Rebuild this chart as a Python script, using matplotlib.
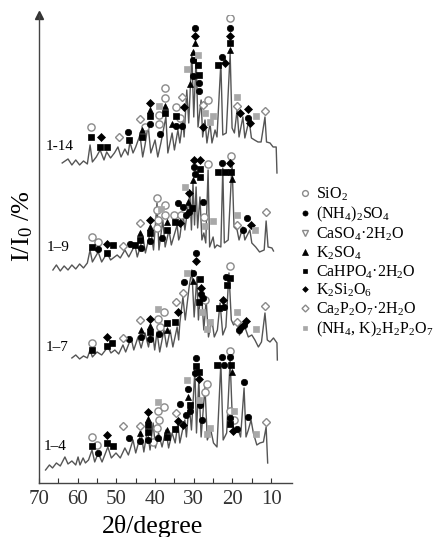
import matplotlib.pyplot as plt
from matplotlib.lines import Line2D
import numpy as np

plt.rcParams['font.family'] = 'Liberation Serif'
plt.rcParams['mathtext.fontset'] = 'custom'
plt.rcParams['mathtext.rm'] = 'Liberation Serif'
plt.rcParams['mathtext.it'] = 'Liberation Serif:italic'

# XRD patterns, 2theta (degree) and stacked intensity (arbitrary units)
tt_14 = [64.0, 62.5, 61.5, 60.5, 59.5, 58.5, 57.5, 56.8, 56.2, 55.2, 54.2, 53.2, 52.5, 51.5, 50.5,
         49.6, 48.8, 47.8, 47.0, 46.5, 45.7, 45.0, 43.9, 43.2, 42.6, 41.8, 41.1, 40.0, 39.3, 38.5,
         37.2, 36.7, 35.6, 35.0, 34.1, 33.6, 32.8, 32.5, 31.8, 31.3, 30.5, 30.0, 29.4, 28.9, 28.1,
         27.7, 27.1, 26.6, 25.8, 25.3, 24.5, 24.0, 23.0, 22.5, 21.6, 20.6, 20.1, 19.5, 18.8, 18.3,
         17.3, 16.8, 15.7, 15.1, 14.3, 13.4, 12.6, 11.6, 11.2, 10.3, 9.5, 8.7, 8.5]
ii_14 = [320, 324, 318, 323, 318, 322, 319, 338, 321, 326, 333, 323, 331, 325, 330,
         336, 326, 334, 328, 341, 330, 336, 348, 326, 338, 358, 330, 343, 326, 340,
         366, 330, 350, 333, 353, 340, 363, 346, 393, 360, 430, 366, 425, 356, 383,
         346, 363, 340, 360, 340, 353, 346, 420, 348, 350, 430, 355, 350, 373, 346,
         366, 345, 363, 345, 343, 341, 341, 366, 341, 340, 336, 336, 310]

tt_9 = [66.4, 65.5, 64.5, 63.5, 62.5, 61.5, 60.5, 59.5, 58.5, 57.5, 56.8, 56.2, 54.7, 53.8, 52.4,
        51.5, 49.8, 49.0, 47.8, 46.8, 45.2, 44.6, 43.1, 42.5, 41.1, 40.4, 39.5, 39.0, 38.0, 37.4,
        36.4, 35.8, 34.3, 33.9, 33.6, 32.8, 32.3, 31.0, 30.6, 30.2, 29.8, 29.4, 29.0, 28.4, 27.9,
        27.4, 26.9, 26.3, 25.9, 25.0, 24.6, 24.0, 23.0, 22.5, 22.1, 21.1, 20.1, 19.6, 18.8, 18.3,
        17.3, 16.8, 15.5, 15.0, 14.0, 13.0, 11.8, 11.3, 10.8, 9.8, 9.4]
ii_9 = [213, 218, 212, 217, 213, 218, 214, 219, 215, 220, 233, 221, 231, 221, 230,
        223, 228, 225, 233, 226, 238, 226, 246, 230, 253, 233, 280, 233, 263, 236,
        253, 238, 258, 243, 246, 270, 253, 290, 253, 300, 258, 296, 255, 286, 243,
        250, 240, 313, 236, 246, 235, 238, 236, 315, 240, 243, 320, 256, 253, 243,
        256, 243, 253, 240, 236, 231, 233, 262, 236, 235, 232]

tt_7 = [61.5, 60.5, 59.5, 58.5, 57.5, 56.8, 56.2, 55.0, 53.8, 52.2, 51.4, 50.4, 49.4, 48.3, 47.6,
        46.2, 45.5, 44.4, 43.6, 42.6, 41.7, 40.8, 40.1, 39.5, 38.8, 37.7, 37.0, 36.1, 35.4, 34.3,
        33.9, 33.6, 32.8, 32.2, 31.2, 30.5, 29.9, 29.2, 28.8, 28.1, 27.4, 26.8, 26.2, 25.3, 24.7,
        23.9, 23.2, 22.5, 21.7, 20.9, 20.3, 19.7, 18.8, 18.2, 17.5, 16.8, 15.9, 15.0, 14.2, 13.3,
        12.5, 11.6, 11.0, 10.3, 9.4, 8.5, 8.4]
ii_7 = [125, 128, 124, 127, 125, 133, 126, 131, 128, 136, 130, 133, 129, 138, 131,
        145, 133, 146, 135, 150, 136, 155, 133, 151, 131, 153, 136, 153, 136, 156,
        143, 160, 186, 163, 196, 213, 166, 206, 163, 196, 153, 183, 146, 163, 146,
        153, 180, 148, 156, 210, 163, 158, 163, 148, 153, 156, 146, 148, 143, 136,
        141, 170, 143, 141, 145, 140, 123]

tt_4 = [68.3, 67.3, 66.5, 65.5, 64.5, 63.3, 62.5, 61.5, 60.5, 59.9, 59.4, 58.6, 58.0, 57.2, 56.3,
        55.6, 54.7, 53.7, 52.2, 51.3, 50.1, 49.0, 47.8, 46.9, 45.7, 45.0, 43.6, 42.9, 42.0, 41.3,
        40.5, 39.9, 39.1, 38.2, 37.2, 36.5, 35.6, 34.8, 34.1, 33.6, 32.9, 32.3, 31.9, 31.2, 30.6,
        29.7, 29.3, 28.7, 28.1, 27.1, 26.5, 25.6, 24.9, 24.0, 23.0, 22.4, 21.5, 20.6, 20.0, 19.3,
        18.5, 17.9, 17.0, 16.5, 15.9, 15.2, 14.6, 13.7, 12.9, 12.0, 11.3, 10.9]
ii_4 = [13, 18, 15, 20, 17, 26, 19, 22, 18, 26, 18, 25, 20, 23, 33,
        21, 30, 21, 36, 25, 30, 25, 35, 28, 43, 30, 50, 31, 53, 33,
        60, 35, 50, 36, 53, 35, 50, 40, 60, 40, 53, 63, 46, 80, 53,
        113, 50, 103, 46, 96, 43, 53, 40, 36, 120, 43, 50, 123, 60, 50,
        53, 46, 95, 46, 53, 63, 50, 38, 40, 41, 56, 20]

# phase markers: (2theta, height, phase)
mk_14 = [(56.6, 356, 'S'), (56.6, 346, 'H'), (54.0, 346, 'D'), (54.2, 336, 'H'), (52.3, 336, 'H'),
         (49.3, 346, 'P'), (47.0, 351, 'N'), (46.7, 343, 'H'),
         (43.9, 364, 'P'), (43.5, 353, 'K'), (43.5, 346, 'H'), (42.6, 356, 'S'),
         (41.3, 380, 'D'), (41.3, 373, 'K'), (41.3, 367, 'H'), (41.3, 359, 'N'),
         (39.0, 377, 'A'), (39.0, 368, 'S'), (39.0, 359, 'S'), (38.7, 349, 'N'),
         (37.4, 395, 'S'), (37.4, 385, 'S'), (37.4, 377, 'K'), (37.4, 370, 'H'),
         (35.6, 359, 'K'), (34.7, 367, 'H'), (34.5, 376, 'S'), (34.5, 357, 'N'), (33.1, 357, 'N'),
         (33.1, 386, 'P'), (33.6, 365, 'S'), (32.5, 376, 'D'),
         (31.7, 414, 'A'), (31.0, 399, 'K'),
         (30.3, 431, 'K'), (30.3, 423, 'N'), (30.3, 407, 'N'),
         (29.7, 455, 'N'), (29.7, 447, 'D'), (29.7, 440, 'K'),
         (28.8, 428, 'A'), (28.8, 418, 'H'), (28.6, 408, 'H'), (28.6, 400, 'N'), (28.6, 392, 'N'),
         (27.5, 378, 'P'), (26.3, 383, 'S'), (27.2, 370, 'A'), (25.0, 367, 'A'), (25.8, 361, 'A'),
         (27.6, 356, 'D'),
         (23.7, 418, 'H'), (22.8, 426, 'N'), (21.9, 420, 'D'),
         (20.6, 465, 'S'), (20.6, 455, 'N'), (20.6, 447, 'D'), (20.6, 440, 'H'), (20.6, 433, 'K'),
         (18.9, 386, 'A'), (18.9, 377, 'P'), (18.1, 370, 'D'),
         (16.0, 374, 'D'), (16.0, 365, 'N'), (15.4, 360, 'D'),
         (14.0, 367, 'A'), (11.6, 372, 'P')]

mk_9 = [(56.3, 246, 'S'), (56.3, 236, 'H'), (54.7, 241, 'S'), (54.7, 234, 'N'),
        (52.4, 239, 'D'), (52.4, 230, 'H'), (50.9, 238, 'H'),
        (48.3, 237, 'P'), (46.5, 239, 'N'), (45.2, 238, 'H'),
        (43.9, 260, 'P'), (43.9, 250, 'K'), (43.9, 243, 'H'), (43.6, 235, 'N'),
        (41.3, 263, 'D'), (41.3, 256, 'K'), (41.3, 250, 'H'), (41.3, 242, 'N'),
        (39.5, 285, 'S'), (39.5, 273, 'S'), (39.3, 263, 'S'), (39.5, 255, 'S'),
        (38.5, 274, 'A'), (38.2, 245, 'N'),
        (37.4, 278, 'S'), (37.4, 268, 'S'), (36.9, 261, 'K'), (36.9, 253, 'H'),
        (35.1, 268, 'S'), (34.9, 261, 'H'), (34.0, 280, 'N'), (33.6, 260, 'D'), (33.3, 268, 'S'),
        (32.9, 276, 'N'),
        (32.3, 296, 'A'), (32.1, 268, 'N'), (31.2, 271, 'N'), (31.4, 281, 'K'), (31.2, 290, 'D'),
        (30.5, 275, 'H'),
        (30.1, 303, 'K'), (29.9, 316, 'N'), (29.9, 323, 'D'), (29.6, 309, 'N'),
        (28.4, 323, 'D'), (28.4, 314, 'H'), (28.4, 306, 'H'),
        (27.5, 281, 'N'), (27.3, 266, 'S'), (27.0, 257, 'A'), (25.0, 262, 'A'),
        (26.3, 319, 'S'),
        (23.7, 311, 'H'), (22.8, 320, 'N'), (21.9, 311, 'H'),
        (20.3, 327, 'S'), (20.6, 320, 'D'), (20.4, 311, 'H'), (20.1, 304, 'K'),
        (18.9, 268, 'A'), (18.9, 258, 'P'),
        (17.4, 253, 'N'), (16.3, 265, 'N'), (15.3, 258, 'D'),
        (14.1, 253, 'A'), (11.3, 271, 'P')]

mk_7 = [(56.3, 140, 'S'), (56.3, 133, 'H'),
        (52.4, 146, 'D'), (52.4, 137, 'H'), (51.1, 140, 'H'),
        (48.3, 145, 'P'), (46.7, 144, 'N'),
        (43.9, 163, 'P'), (43.6, 153, 'K'), (43.6, 146, 'N'),
        (41.3, 164, 'D'), (41.3, 157, 'K'), (41.3, 151, 'H'), (41.3, 144, 'N'),
        (39.3, 174, 'A'), (37.7, 171, 'S'), (39.3, 164, 'S'), (38.8, 156, 'S'), (39.1, 149, 'N'),
        (36.9, 160, 'H'), (36.9, 153, 'K'),
        (34.9, 161, 'H'), (34.1, 171, 'D'), (34.5, 181, 'P'), (32.8, 190, 'P'),
        (31.8, 210, 'A'), (32.5, 201, 'N'),
        (30.1, 210, 'N'), (30.1, 202, 'K'),
        (29.4, 230, 'N'), (29.4, 222, 'D'),
        (28.4, 204, 'H'), (28.2, 195, 'D'), (28.2, 189, 'N'), (28.7, 181, 'H'), (27.7, 185, 'N'),
        (27.0, 183, 'S'),
        (27.9, 171, 'A'), (25.8, 161, 'A'), (26.6, 154, 'A'),
        (22.5, 183, 'D'), (23.4, 175, 'H'), (22.2, 176, 'N'),
        (21.6, 206, 'N'), (21.4, 198, 'H'), (20.6, 217, 'S'), (20.6, 205, 'H'),
        (18.9, 171, 'A'), (18.9, 161, 'P'),
        (18.3, 153, 'N'), (17.8, 156, 'N'), (17.1, 158, 'N'), (16.5, 162, 'D'),
        (14.0, 154, 'A'), (11.6, 177, 'P')]

mk_4 = [(56.3, 46, 'S'), (56.3, 37, 'H'), (55.0, 38, 'S'), (54.7, 30, 'N'),
        (52.4, 48, 'D'), (52.4, 40, 'H'), (50.9, 37, 'H'),
        (48.3, 57, 'P'), (46.7, 45, 'N'),
        (43.9, 57, 'P'), (43.9, 50, 'K'), (43.9, 42, 'N'),
        (41.8, 71, 'D'), (41.8, 64, 'K'), (41.8, 58, 'H'), (41.8, 51, 'H'), (41.8, 43, 'N'),
        (40.5, 41, 'S'),
        (39.3, 81, 'A'), (39.3, 72, 'S'), (37.6, 76, 'S'), (39.0, 63, 'S'), (39.5, 55, 'S'),
        (39.3, 45, 'N'),
        (36.9, 53, 'K'), (36.9, 46, 'H'),
        (34.9, 54, 'H'), (34.1, 62, 'D'), (34.5, 70, 'P'),
        (33.6, 79, 'N'), (32.7, 58, 'D'),
        (31.7, 103, 'A'), (31.5, 94, 'N'), (31.5, 86, 'K'), (31.0, 78, 'H'), (31.0, 72, 'N'),
        (32.0, 68, 'N'),
        (29.3, 125, 'N'), (29.3, 117, 'H'), (29.6, 110, 'N'), (28.6, 111, 'H'), (28.6, 104, 'D'),
        (28.7, 83, 'A'), (28.4, 78, 'N'), (26.6, 99, 'S'), (27.2, 91, 'S'), (27.9, 63, 'N'),
        (25.8, 55, 'A'), (26.6, 49, 'A'),
        (23.9, 118, 'H'), (22.6, 126, 'N'), (22.3, 118, 'N'),
        (20.6, 132, 'S'), (20.6, 126, 'N'), (20.3, 118, 'H'), (20.1, 111, 'K'),
        (20.6, 72, 'S'), (19.6, 72, 'A'), (19.5, 63, 'S'), (20.6, 65, 'N'), (20.6, 59, 'H'),
        (18.9, 54, 'N'), (19.9, 52, 'D'),
        (17.0, 101, 'N'), (16.0, 66, 'N'), (14.0, 49, 'A'), (11.3, 61, 'P')]

samples = ['1-14', '1–9', '1–7', '1–4']
patterns = [(tt_14, ii_14, mk_14), (tt_9, ii_9, mk_9), (tt_7, ii_7, mk_7), (tt_4, ii_4, mk_4)]
label_pos = [(68.4, 336), (67.9, 235), (68.4, 135), (68.9, 36)]

phases = ['S', 'N', 'C', 'K', 'H', 'D', 'P', 'A']
phase_names = ['SiO$_2$', '(NH$_4$)$_2$SO$_4$', 'CaSO$_4$·2H$_2$O', 'K$_2$SO$_4$',
               'CaHPO$_4$·2H$_2$O', 'K$_2$Si$_2$O$_6$', 'Ca$_2$P$_2$O$_7$·2H$_2$O',
               '(NH$_4$, K)$_2$H$_2$P$_2$O$_7$']

grey = '#8a8a8a'
style = {
    'S': dict(marker='o', mfc='white', mec=grey, ms=5.2, mew=1.0),
    'N': dict(marker='o', mfc='black', mec='black', ms=4.6, mew=0.5),
    'C': dict(marker='v', mfc='white', mec=grey, ms=5.0, mew=1.0),
    'K': dict(marker='^', mfc='black', mec='black', ms=4.6, mew=0.5),
    'H': dict(marker='s', mfc='black', mec='black', ms=4.0, mew=0.5),
    'D': dict(marker='D', mfc='black', mec='black', ms=3.6, mew=0.5),
    'P': dict(marker='D', mfc='white', mec=grey, ms=4.4, mew=1.0),
    'A': dict(marker='s', mfc='#a8a8a8', mec='#a8a8a8', ms=4.2, mew=0.5),
}

fig = plt.figure(figsize=(4.43, 5.37), dpi=100)
ax = fig.add_axes([0.088, 0.1006, 0.571, 0.8715])

for name, (tt, ii, mk), (lx, ly) in zip(samples, patterns, label_pos):
    ax.plot(tt, ii, color='#555555', lw=1.0, zorder=2)
    for ph in phases:
        xs = [m[0] for m in mk if m[2] == ph]
        ys = [m[1] for m in mk if m[2] == ph]
        if xs:
            ax.plot(xs, ys, ls='none', zorder=3, **style[ph])
    ax.text(lx, ly, name, fontsize=11, va='center', ha='left')

ax.set_xlim(70, 4.63)
ax.set_ylim(0, 468)
ax.set_xticks(np.arange(10, 71, 10))
ax.set_xticks(np.arange(15, 70, 10), minor=True)
ax.tick_params(axis='x', which='both', direction='in', length=3.5, width=0.8,
               colors='#333333', labelsize=15, pad=5)
ax.set_yticks([])
for s in ['top', 'right']:
    ax.spines[s].set_visible(False)
for s in ['left', 'bottom']:
    ax.spines[s].set_color('#444444')
    ax.spines[s].set_linewidth(1.0)
ax.plot([0], [1], marker='^', color='#333333', ms=6, transform=ax.transAxes, clip_on=False)

ax.set_xlabel('2θ/degree', fontsize=18.5)
ax.xaxis.set_label_coords(0.447, -0.068)
ax.set_ylabel('I/I$_0$ /%', fontsize=19)
ax.yaxis.set_label_coords(-0.015, 0.55)

handles = [Line2D([], [], ls='none', **style[ph]) for ph in phases]
fig.legend(handles, phase_names, loc='upper left', bbox_to_anchor=(300 / 443, 1 - 186 / 537),
           frameon=False, fontsize=11.5, handlelength=0.6, handletextpad=0.4,
           labelspacing=0.09, borderpad=0, borderaxespad=0, markerscale=0.8)

fig.savefig('out.png', dpi=100)
